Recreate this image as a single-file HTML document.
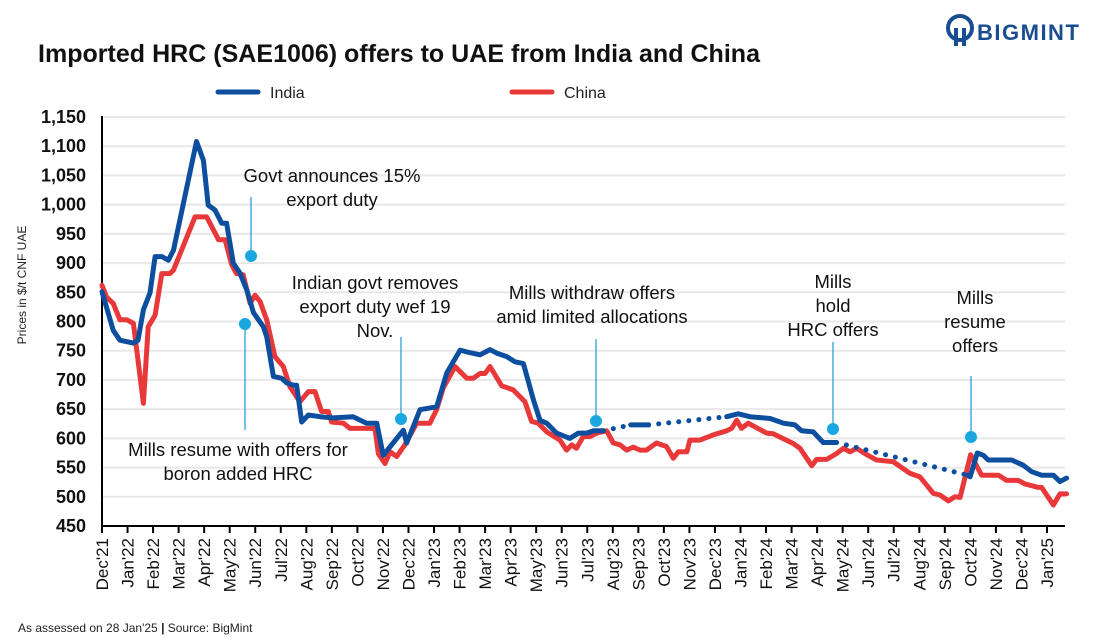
<!DOCTYPE html>
<html><head><meta charset="utf-8">
<style>
body{margin:0;background:#fff;}
svg{display:block;font-family:"Liberation Sans",sans-serif;}
</style></head>
<body>
<svg id="chart" width="1112" height="640" viewBox="0 0 1112 640">
<g>
  <circle cx="960" cy="28" r="12" fill="none" stroke="#1a4d8f" stroke-width="4"/>
  <rect x="954" y="28" width="4" height="18" fill="#1a4d8f"/>
  <rect x="962" y="28" width="4" height="18" fill="#1a4d8f"/>
  <text x="977" y="40" font-size="22" font-weight="bold" fill="#1a4d8f" letter-spacing="1.5">BIGMINT</text>
</g>
<text x="38" y="62" font-size="25" font-weight="bold" fill="#111" textLength="722">Imported HRC (SAE1006) offers to UAE from India and China</text>
<g>
  <g><line x1="218" y1="92" x2="258" y2="92" stroke="#0d4f9e" stroke-width="5" stroke-linecap="round"/><text x="270" y="98" font-size="16" fill="#222">India</text></g>
  <g><line x1="512" y1="92" x2="552" y2="92" stroke="#e8383a" stroke-width="5" stroke-linecap="round"/><text x="564" y="98" font-size="16" fill="#222">China</text></g>
</g>
<text transform="translate(26,285) rotate(-90)" text-anchor="middle" font-size="12" fill="#222">Prices in $/t CNF UAE</text>
<g id="grid"></g><g id="yticks"></g><g id="xticks"></g>
<g id="series"></g>
<g id="annot" font-size="18.5" fill="#111" text-anchor="middle"></g>
<text x="18" y="632" font-size="12" fill="#222">As assessed on 28 Jan'25 <tspan font-weight="bold">|</tspan> Source: BigMint</text>
</svg>
<script>
const yTicks=[450,500,550,600,650,700,750,800,850,900,950,1000,1050,1100,1150];
const months=["Dec'21","Jan'22","Feb'22","Mar'22","Apr'22","May'22","Jun'22","Jul'22","Aug'22","Sep'22","Oct'22","Nov'22","Dec'22","Jan'23","Feb'23","Mar'23","Apr'23","May'23","Jun'23","Jul'23","Aug'23","Sep'23","Oct'23","Nov'23","Dec'23","Jan'24","Feb'24","Mar'24","Apr'24","May'24","Jun'24","Jul'24","Aug'24","Sep'24","Oct'24","Nov'24","Dec'24","Jan'25"];
// time in months since 1 Dec 2021
const indiaT1=[0,0.44,0.7,1.23,1.41,1.62,1.88,2.08,2.34,2.6,2.8,3.7,3.97,4.16,4.42,4.69,4.88,5.14,5.4,5.67,5.93,6.32,6.45,6.71,7.03,7.23,7.49,7.62,7.82,8.08,8.54,9.05,9.83,10.36,10.76,11.01,11.8,11.93,12.45,13.1,13.5,14.02,14.28,14.8,15.19,15.45,15.85,16.17,16.5,16.89,17.15,17.41,17.8,18.32,18.65,18.98,19.24,19.63];
const indiaV1=[851,785,768,763,768,820,849,911,911,905,922,1108,1076,999,991,968,968,900,883,854,815,791,774,706,703,695,691,691,628,640,637,635,637,626,626,571,614,592,649,654,712,751,748,743,752,746,740,731,728,666,631,626,609,600,609,609,613,613];
const indiaGapT1=[19.63,20.7]; const indiaGapV1=[613,623];
const indiaT2=[20.7,21.4]; const indiaV2=[623,623];
const indiaGapT2=[21.4,24.46]; const indiaGapV2=[623,637];
const indiaT3=[24.46,24.91,25.37,26.16,26.68,27.13,27.39,27.85,28.24,28.76];
const indiaV3=[637,642,637,634,626,623,613,611,593,593];
const indiaGapT3=[28.76,33.9]; const indiaGapV3=[593,537];
const indiaT4=[33.9,33.99,34.27,34.51,34.7,35.62,36.07,36.4,36.79,37.25,37.51,37.77];
const indiaV4=[537,534,575,571,563,563,554,543,537,537,526,532];
const chinaT=[0,0.18,0.44,0.7,0.97,1.23,1.62,1.81,2.08,2.34,2.66,2.8,3.64,4.1,4.56,4.82,5.08,5.27,5.53,5.8,5.99,6.19,6.45,6.77,7.1,7.36,7.75,8.08,8.34,8.6,8.86,8.99,9.45,9.71,10.69,10.82,11.08,11.28,11.54,11.86,12.32,12.84,13.1,13.36,13.82,14.28,14.54,14.8,15.0,15.19,15.65,16.1,16.56,16.82,17.08,17.41,17.93,18.19,18.39,18.58,18.84,19.1,19.37,19.76,20.02,20.28,20.54,20.8,21.06,21.32,21.71,22.1,22.37,22.57,22.9,23.02,23.41,23.93,24.46,24.65,24.85,25.04,25.3,26.02,26.28,27.07,27.33,27.79,27.98,28.37,28.76,29.03,29.29,29.55,29.94,30.33,30.98,31.64,32.03,32.55,32.81,33.14,33.4,33.6,34.01,34.44,35.1,35.42,35.88,36.14,36.66,36.79,37.25,37.51,37.77];
const chinaV=[862,842,831,803,803,797,660,791,811,882,882,888,979,979,940,940,897,882,880,831,845,834,803,740,723,688,663,680,680,646,646,628,626,617,617,574,557,577,569,589,626,626,649,686,723,703,703,711,711,723,690,683,663,629,626,611,597,580,589,583,603,603,609,613,592,589,580,585,580,580,592,586,566,577,577,597,597,606,613,617,631,617,626,609,608,591,583,553,564,564,574,583,577,583,572,563,560,540,534,506,503,493,500,499,572,537,537,528,528,522,516,516,486,505,505];
const annotations=[
 {lines:["Govt announces 15%","export duty"],tx:332,ty:182,lx:251,ly1:197,ly2:250,dy:256},
 {lines:["Mills resume with offers for","boron added HRC"],tx:238,ty:456,lx:245,ly1:330,ly2:430,dy:324},
 {lines:["Indian govt removes","export duty wef 19","Nov."],tx:375,ty:289,lx:401,ly1:337,ly2:413,dy:419},
 {lines:["Mills withdraw offers","amid limited allocations"],tx:592,ty:299,lx:596,ly1:339,ly2:415,dy:421},
 {lines:["Mills","hold","HRC offers"],tx:833,ty:288,lx:833,ly1:342,ly2:423,dy:429},
 {lines:["Mills","resume","offers"],tx:975,ty:304,lx:971,ly1:376,ly2:431,dy:437}
];
const X0=102,MW=25.54,Y0=117,YS=0.5843;
const x=m=>X0+MW*m, y=v=>Y0+(1150-v)*YS;
const NS="http://www.w3.org/2000/svg";
function mk(t,p,attrs){const e=document.createElementNS(NS,t);for(const k in attrs)e.setAttribute(k,attrs[k]);p.appendChild(e);return e;}
const grid=document.getElementById('grid'),yt=document.getElementById('yticks'),xt=document.getElementById('xticks'),ser=document.getElementById('series'),an=document.getElementById('annot');
yTicks.forEach(v=>{
 if(v>450){const g=mk('line',grid,{x1:X0,x2:1065,y1:y(v),y2:y(v),stroke:'#e8e8e8','stroke-width':2});
 
 }
 const t=mk('text',yt,{x:86,y:y(v)+6,'text-anchor':'end','font-size':18,'font-weight':'bold',fill:'#111'});
 t.textContent=v.toLocaleString('en-US');
 
 
});
const ax=mk('path',xt,{d:`M${X0} ${Y0-1}V${y(450)}H1065`,stroke:'#000','stroke-width':2,fill:'none'});


months.forEach((mn,i)=>{
 const tk=mk('line',xt,{x1:x(i),x2:x(i),y1:y(450),y2:y(450)+7,stroke:'#000','stroke-width':2});
 
 
 const t=mk('text',xt,{transform:`translate(${x(i)+6},${y(450)+12}) rotate(-90)`,'text-anchor':'end','font-size':17,fill:'#111'});
 t.textContent=mn;
 
 
});
function pts(T,V){return T.map((t,i)=>x(t).toFixed(1)+','+y(V[i]).toFixed(1)).join(' ');}
function line(T,V,col,name,dotted){
 const a={points:pts(T,V),fill:'none',stroke:col,'stroke-width':5,'stroke-linejoin':'round','stroke-linecap':'round'};
 if(dotted)a['stroke-dasharray']='0.1 10';
 const p=mk('polyline',ser,a);
 
 
}
line(chinaT,chinaV,'#e8383a','china-line',false);
line(indiaT1,indiaV1,'#0d4f9e','india-line',false);
line(indiaGapT1,indiaGapV1,'#0d4f9e','india-dotted-gap',true);
line(indiaT2,indiaV2,'#0d4f9e','india-line',false);
line(indiaGapT2,indiaGapV2,'#0d4f9e','india-dotted-gap',true);
line(indiaT3,indiaV3,'#0d4f9e','india-line',false);
line(indiaGapT3,indiaGapV3,'#0d4f9e','india-dotted-gap',true);
line(indiaT4,indiaV4,'#0d4f9e','india-line',false);
annotations.forEach((a,k)=>{
 const g=mk('g',an,{});
 
 
 a.lines.forEach((s,i)=>{const t=mk('text',g,{x:a.tx,y:a.ty+i*24});t.textContent=s;});
 mk('line',g,{x1:a.lx,x2:a.lx,y1:a.ly1,y2:a.ly2,stroke:'#1a9ad6','stroke-width':1.2});
 mk('circle',g,{cx:a.lx,cy:a.dy,r:6,fill:'#1aa7e0'});
});
</script>
</body></html>
